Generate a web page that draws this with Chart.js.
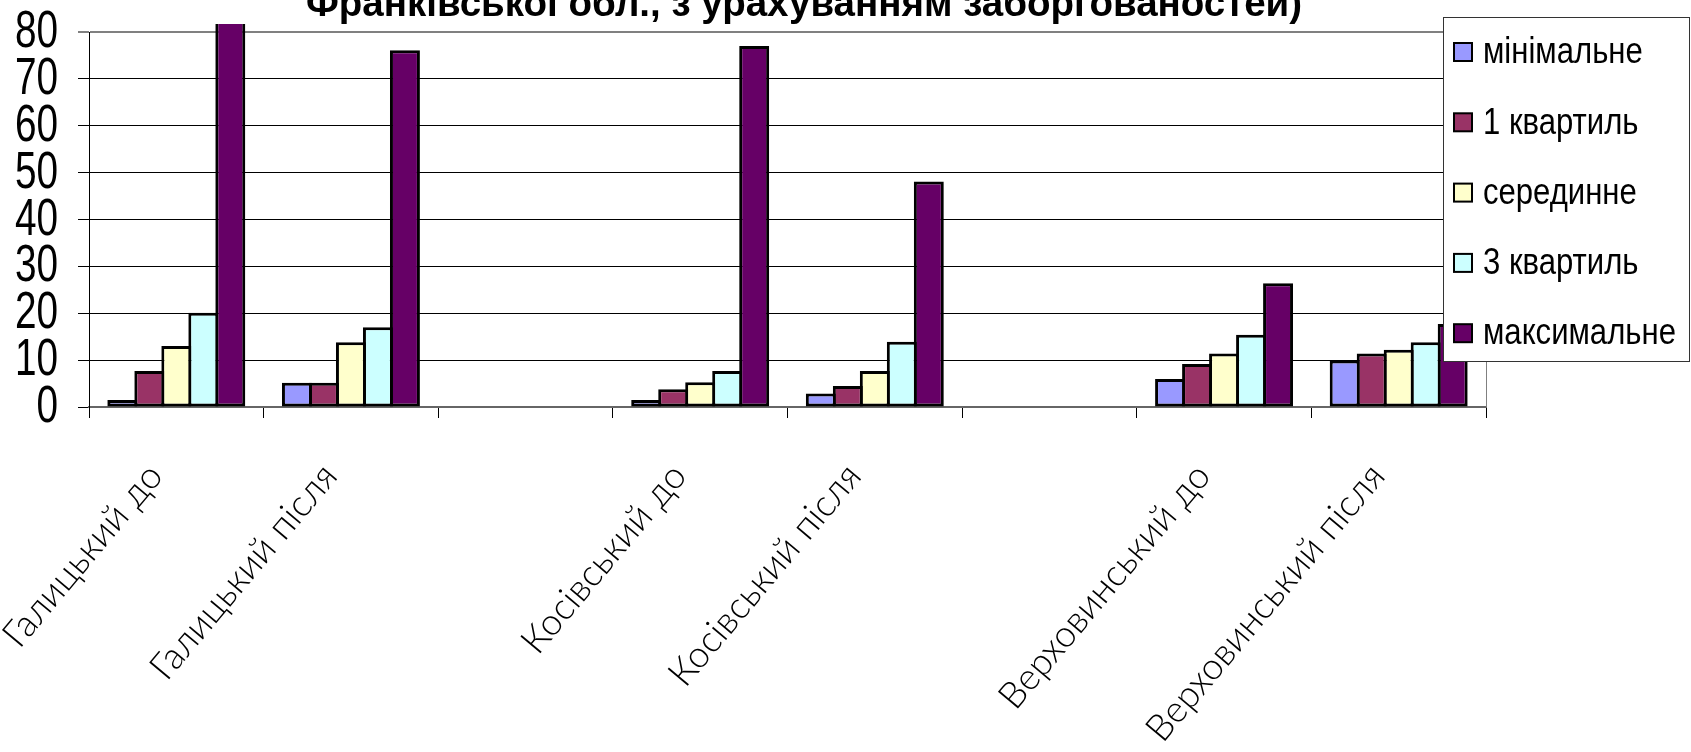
<!DOCTYPE html>
<html>
<head>
<meta charset="utf-8">
<script src="https://cdn.jsdelivr.net/npm/chart.js@4/dist/chart.umd.min.js"></script>
<style>
  html, body { margin: 0; padding: 0; background: #fff; overflow: hidden; }
  #wrap { width: 1691px; height: 752px; position: relative; }
</style>
</head>
<body>
<div id="wrap"><canvas id="c" width="1691" height="752"></canvas></div>
<script>
// Districts, before / after; blank slots separate the districts
const categories = ['Галицький до', 'Галицький після', '', 'Косівський до', 'Косівський після', '', 'Верховинський до', 'Верховинський після'];
const seriesNames = ['мінімальне', '1 квартиль', 'серединне', '3 квартиль', 'максимальне'];
const minimum   = [1.5,  5.2, null, 1.5,  2.9, null,  6.0,  9.9];
const quartile1 = [7.7,  5.2, null, 3.8,  4.5, null,  9.2, 11.4];
const median    = [13.0, 13.8, null, 5.3,  7.7, null, 11.4, 12.2];
const quartile3 = [20.1, 17.0, null, 7.7, 13.9, null, 15.4, 13.8];
const maximum   = [83.0, 76.1, null, 77.0, 48.1, null, 26.4, 17.7];
const yTicks = [0, 10, 20, 30, 40, 50, 60, 70, 80];
const seriesColors = ['#9999FF', '#993366', '#FFFFCC', '#CCFFFF', '#660066'];
const titleText = 'Франківської обл., з урахуванням заборгованостей)';

const SANS = "'Liberation Sans', Arial, sans-serif";

const seriesValues = [minimum, quartile1, median, quartile3, maximum];

// neighbouring columns overlap by one outline width so they share a border
const datasets = seriesNames.map((name, i) => ({
  label: name,
  data: seriesValues[i],
  backgroundColor: seriesColors[i],
  borderColor: '#000',
  borderWidth: 3,
  borderSkipped: false,
  categoryPercentage: 0.773,
  barPercentage: 1.11,
  // the tallest column runs a little past the top of the plot
  clip: i === 4 ? { left: false, top: 8, right: false, bottom: false } : undefined
}));

// text squeezed horizontally (narrow face look)
function narrowText(ctx, text, x, y, squeeze) {
  ctx.save();
  ctx.translate(x, y);
  ctx.scale(squeeze, 1);
  ctx.fillText(text, 0, 0);
  ctx.restore();
}

// Title line, y tick labels, plot frame and the boxed legend on the right
const overlay = {
  id: 'overlay',
  afterDatasetsDraw(chart) {
    const { ctx, chartArea: a } = chart;
    ctx.save();
    ctx.strokeStyle = '#808080';
    ctx.lineWidth = 1;
    ctx.beginPath();
    ctx.moveTo(Math.round(a.right) + 0.5, a.top);
    ctx.lineTo(Math.round(a.right) + 0.5, a.bottom);
    ctx.stroke();
    ctx.restore();
  },
  afterDraw(chart) {
    const ctx = chart.ctx;
    const yScale = chart.scales.y;
    ctx.save();

    // y tick labels, tall and narrow
    ctx.fillStyle = '#000';
    ctx.font = "51px " + SANS;
    ctx.textAlign = 'right';
    ctx.textBaseline = 'middle';
    yTicks.forEach(v => {
      narrowText(ctx, String(v), 58, yScale.getPixelForValue(v) + 1, 0.76);
    });

    // title (upper lines run off the top edge)
    ctx.font = "bold 38.5px " + SANS;
    ctx.textAlign = 'center';
    ctx.textBaseline = 'alphabetic';
    ctx.fillText(titleText, 804, 16);

    // legend box
    const lx = 1443, ly = 17, lw = 247, lh = 345;
    ctx.fillStyle = '#fff';
    ctx.fillRect(lx, ly, lw, lh);
    ctx.strokeStyle = '#333';
    ctx.lineWidth = 1;
    ctx.strokeRect(lx + 0.5, ly + 0.5, lw - 1, lh - 1);
    ctx.font = "37px " + SANS;
    ctx.textAlign = 'left';
    ctx.textBaseline = 'middle';
    chart.data.datasets.forEach((ds, i) => {
      const cy = 52 + i * 70.3;
      ctx.fillStyle = ds.backgroundColor;
      ctx.fillRect(1454, cy - 9, 18, 18);
      ctx.strokeStyle = '#000';
      ctx.lineWidth = 2;
      ctx.strokeRect(1454, cy - 9, 18, 18);
      ctx.fillStyle = '#000';
      narrowText(ctx, ds.label, 1483, cy + 1, 0.84);
    });
    ctx.restore();
  }
};

new Chart(document.getElementById('c'), {
  type: 'bar',
  data: { labels: categories, datasets },
  options: {
    responsive: false,
    animation: false,
    devicePixelRatio: 1,
    layout: { padding: { left: 0, right: 205, top: 32, bottom: 0 } },
    plugins: {
      legend: { display: false },
      title: { display: false },
      tooltip: { enabled: false }
    },
    scales: {
      x: {
        offset: true,
        grid: { drawOnChartArea: false, drawTicks: true, tickLength: 11, color: '#000', offset: true },
        border: { display: true, color: '#666', width: 2 },
        ticks: {
          autoSkip: false,
          minRotation: 50,
          maxRotation: 50,
          padding: 37,
          labelOffset: -21,
          color: '#000',
          font: { family: "Lato, 'Liberation Sans', sans-serif", size: 37, weight: 300 }
        },
        afterFit(scale) {
          scale.height = 345;
          scale.paddingLeft = 0;
          scale.paddingRight = 0;
        }
      },
      y: {
        min: 0,
        max: 80,
        afterBuildTicks(scale) { scale.ticks = yTicks.map(v => ({ value: v })); },
        grid: {
          color: c => (c.tick && c.tick.value === 80) ? '#808080' : '#000',
          lineWidth: c => (c.tick && c.tick.value === 80) ? 2 : 1,
          tickLength: 11
        },
        border: { display: true, color: '#000', width: 1 },
        ticks: { display: false, autoSkip: false },
        afterFit(scale) {
          scale.width = 89;
          scale.paddingTop = 0;
          scale.paddingBottom = 0;
        }
      }
    }
  },
  plugins: [overlay]
});
</script>
</body>
</html>
